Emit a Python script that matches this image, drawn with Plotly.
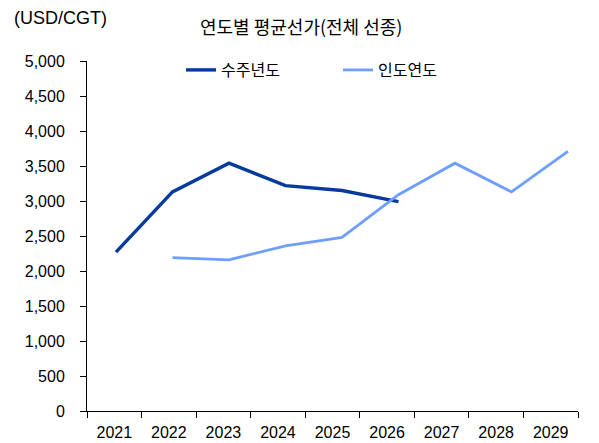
import plotly.graph_objects as go

years = [2021, 2022, 2023, 2024, 2025, 2026, 2027, 2028, 2029]
year_labels = [str(y) for y in years]

order_years = [2021, 2022, 2023, 2024, 2025, 2026]
order_price = [2270, 3130, 3540, 3220, 3150, 2990]

delivery_years = [2022, 2023, 2024, 2025, 2026, 2027, 2028, 2029]
delivery_price = [2190, 2160, 2360, 2480, 3090, 3540, 3130, 3710]

y_ticks = list(range(0, 5001, 500))
y_ticktext = [f"{v:,}" for v in y_ticks]

NUM_FONT = "Liberation Sans, Arial, sans-serif"
KR_FONT = "Noto Sans CJK KR, sans-serif"

# the page body adds an 8px offset; lay out in window pixels, then shift
OFF = 8
W, H = 599 - OFF, 443 - OFF
L, T = 87 - OFF, 61 - OFF
R, B = W - (578 - OFF), H - (411 - OFF)
pw, ph = W - L - R, H - T - B


def px(xp):
    return (xp - OFF - L) / pw


def py(yp):
    return (H - B - (yp - OFF)) / ph


fig = go.Figure()
fig.add_trace(go.Scatter(x=order_years, y=order_price, name="수주년도", mode="lines",
                         line=dict(color="#063A9C", width=3.4)))
fig.add_trace(go.Scatter(x=delivery_years, y=delivery_price, name="인도연도", mode="lines",
                         line=dict(color="#6E9EFF", width=2.8)))
# carrier trace for the labelled category axis
fig.add_trace(go.Scatter(x=[2021], y=[None], xaxis="x2", showlegend=False, hoverinfo="skip"))

fig.update_layout(
    width=W, height=H,
    margin=dict(l=L, r=R, t=T, b=B),
    paper_bgcolor="white", plot_bgcolor="white",
    font=dict(family=NUM_FONT, size=16, color="black"),
    showlegend=True,
    legend=dict(orientation="h", x=px(181), y=py(70), xanchor="left", yanchor="middle",
                font=dict(family=KR_FONT, size=16, color="black"),
                entrywidth=112, entrywidthmode="pixels", bgcolor="rgba(0,0,0,0)"),
    xaxis=dict(range=[2020.487, 2029.178], showticklabels=False, showline=False,
               showgrid=False, zeroline=False, ticks="", automargin=False),
    xaxis2=dict(overlaying="x", anchor="y", range=[2020.5, 2029.5], automargin=False,
                tickmode="array", tickvals=years, ticktext=year_labels, ticks="",
                showline=True, linecolor="black", linewidth=1, showgrid=False, zeroline=False,
                minor=dict(tickmode="array", tickvals=[y - 0.5 for y in years] + [2029.5],
                           ticks="outside", ticklen=6, tickcolor="black", showgrid=False),
                ticklabelstandoff=7,
                tickfont=dict(family=NUM_FONT, size=16)),
    yaxis=dict(range=[0, 5000], tickmode="array", tickvals=y_ticks, ticktext=y_ticktext,
               ticks="outside", ticklen=6, tickcolor="black", showline=True, linecolor="black",
               linewidth=1, showgrid=False, zeroline=False, automargin=False,
               ticklabelstandoff=12,
               tickfont=dict(family=NUM_FONT, size=16)),
    annotations=[
        dict(text="(USD/CGT)", x=px(60), y=py(18), xref="paper", yref="paper",
             xanchor="center", yanchor="middle", showarrow=False,
             font=dict(family="Liberation Sans, Arial, sans-serif", size=18)),
        dict(text="연도별 평균선가(전체 선종)", x=px(301), y=py(26), xref="paper", yref="paper",
             xanchor="center", yanchor="middle", showarrow=False,
             font=dict(family=KR_FONT, size=18)),
    ],
)

fig.write_html("out.html")
